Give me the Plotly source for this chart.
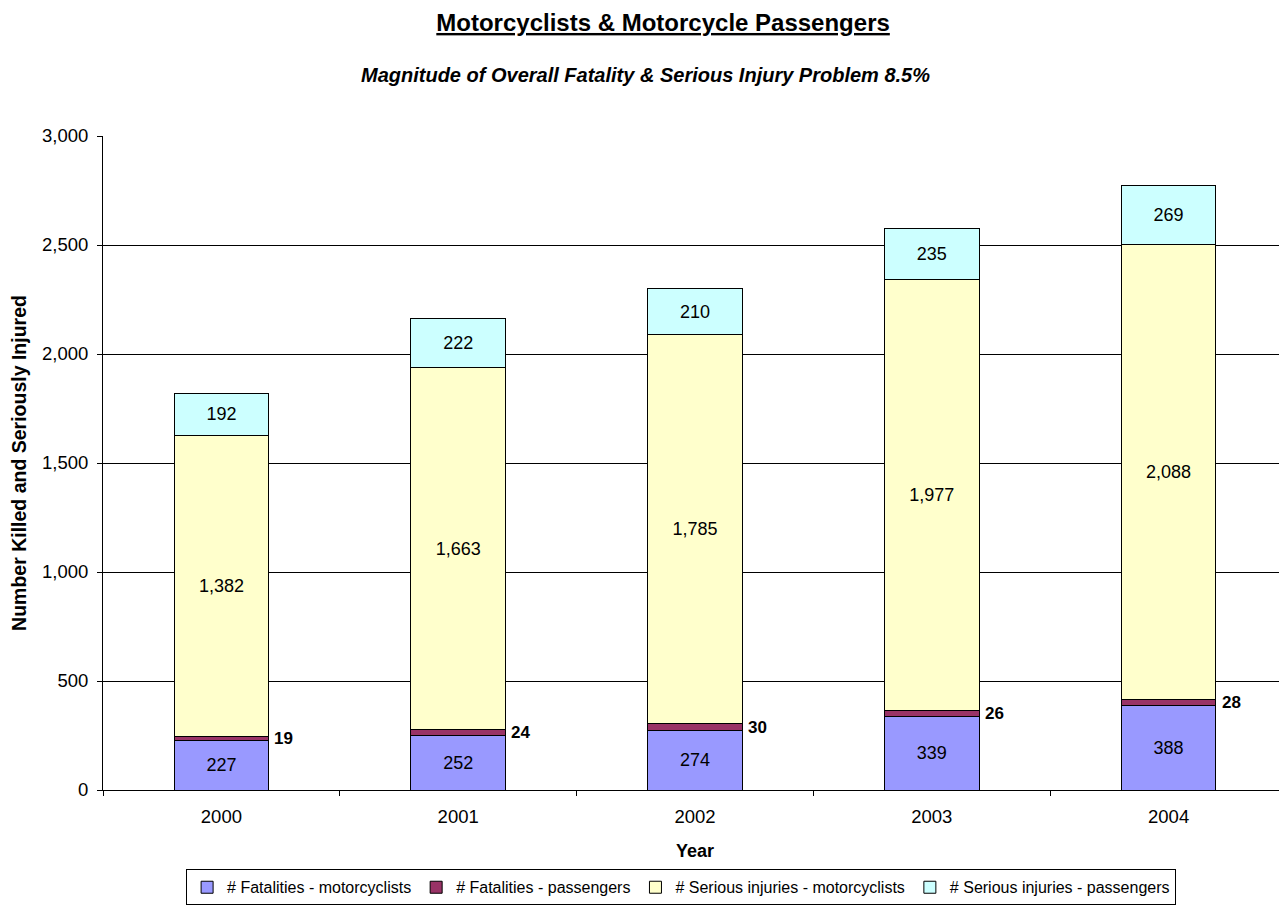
import plotly.graph_objects as go

years = ["2000", "2001", "2002", "2003", "2004"]
fatal_moto = [227, 252, 274, 339, 388]
fatal_pass = [19, 24, 30, 26, 28]
serious_moto = [1382, 1663, 1785, 1977, 2088]
serious_pass = [192, 222, 210, 235, 269]

names = ["# Fatalities - motorcyclists", "# Fatalities - passengers",
         "# Serious injuries - motorcyclists", "# Serious injuries - passengers"]
colors = ["#9999FF", "#993366", "#FFFFCC", "#CCFFFF"]

FONT = "Liberation Sans, Arial, sans-serif"

fig = go.Figure()
series = [fatal_moto, fatal_pass, serious_moto, serious_pass]
for i, (vals, name, col) in enumerate(zip(series, names, colors)):
    show_text = i != 1
    fig.add_trace(go.Bar(
        x=years, y=vals, name=name,
        marker=dict(color=col, line=dict(color="black", width=1)),
        texttemplate="%{y:,}" if show_text else "",
        textposition="inside" if show_text else "none",
        insidetextanchor="middle",
        textfont=dict(family=FONT, size=18, color="black"),
        constraintext="none",
        width=0.4,
    ))

for idx, (fm, fp) in enumerate(zip(fatal_moto, fatal_pass)):
    fig.add_annotation(x=idx, y=fm + fp / 2, text=f"<b>{fp}</b>", showarrow=False,
                       xanchor="left", yanchor="middle", xshift=51,
                       font=dict(family=FONT, size=17, color="black"))

fig.add_annotation(xref="paper", yref="paper", x=0.458, y=1.0, yshift=61,
                   text="<b><i>Magnitude of Overall Fatality & Serious Injury Problem 8.5%</i></b>",
                   showarrow=False, xanchor="center", yanchor="middle",
                   font=dict(family=FONT, size=20, color="black"))

fig.update_layout(
    barmode="stack",
    width=1287, height=911,
    paper_bgcolor="white", plot_bgcolor="white",
    margin=dict(l=95, r=8, t=128, b=129),
    title=dict(text="<b><u>Motorcyclists & Motorcycle Passengers</u></b>",
               x=0.509, xref="container", xanchor="center",
               y=0.984, yref="container", yanchor="middle",
               font=dict(family=FONT, size=24, color="black")),
    font=dict(family=FONT, size=18, color="black"),
    legend=dict(orientation="h", x=0.523, xref="container", xanchor="center",
                y=0.015, yref="container", yanchor="bottom",
                bordercolor="black", borderwidth=1, bgcolor="white",
                font=dict(family=FONT, size=16, color="black"),
                itemwidth=30, traceorder="normal", itemclick=False),
    showlegend=True,
)
fig.update_xaxes(
    type="category", tickson="boundaries", ticks="outside", ticklen=5,
    tickcolor="black", showline=True, linecolor="black", linewidth=1,
    ticklabelstandoff=10,
    title=dict(text="<b>Year</b>", font=dict(family=FONT, size=18), standoff=18),
    tickfont=dict(family=FONT, size=18.5), showgrid=False,
)
fig.update_yaxes(
    range=[0, 3000], dtick=500, tickformat=",", ticks="outside", ticklen=5,
    tickcolor="black", showline=True, linecolor="black", linewidth=1,
    ticklabelstandoff=5,
    showgrid=True, gridcolor="black", gridwidth=1, zeroline=False,
    title=dict(text="<b>Number Killed and Seriously Injured</b>",
               font=dict(family=FONT, size=19.5), standoff=12),
    tickfont=dict(family=FONT, size=18.5),
)

fig.write_html("out.html")
